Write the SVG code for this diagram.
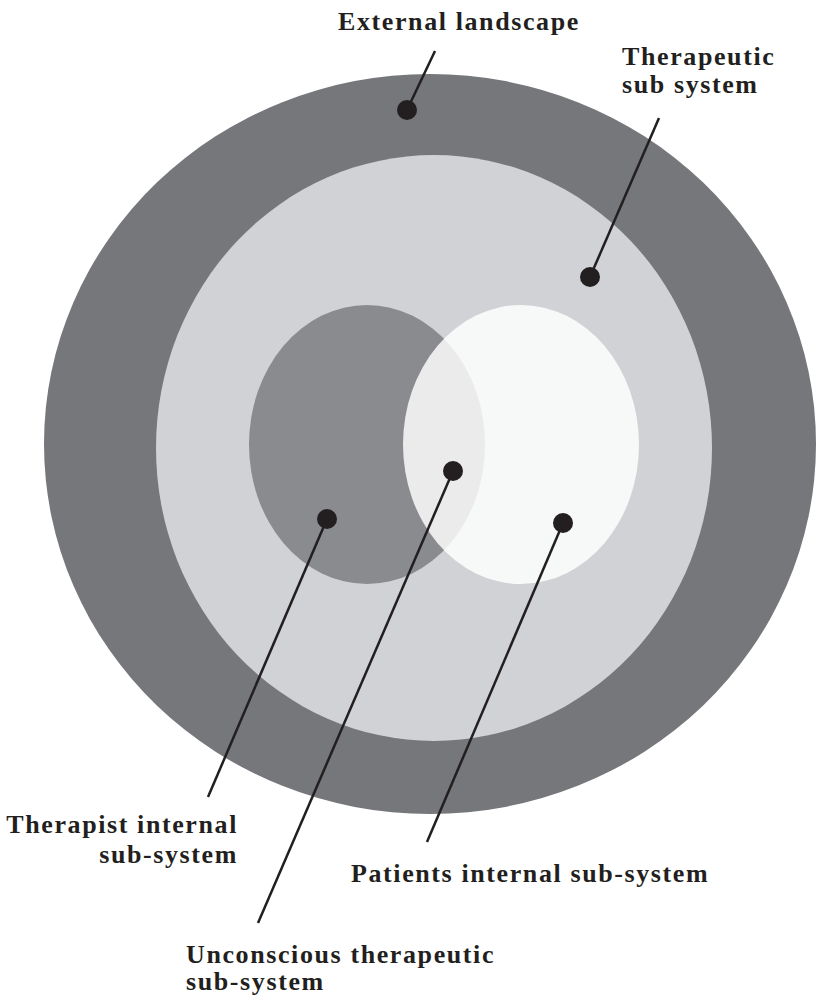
<svg xmlns="http://www.w3.org/2000/svg" width="816" height="1002" viewBox="0 0 816 1002">
<style>
.lbl{font-family:"Liberation Serif","DejaVu Serif",serif;font-weight:bold;font-size:26px;letter-spacing:1.6px;fill:#231f20}
.ln{stroke:#231f20;stroke-width:2.5;fill:none}
.dot{fill:#231f20}
</style>
<rect width="816" height="1002" fill="#ffffff"/>
<g id="external-landscape">
<ellipse cx="430" cy="444" rx="386" ry="370" fill="#76777a"/>
</g>
<g id="therapeutic-sub-system">
<ellipse cx="434" cy="448" rx="278" ry="293" fill="#d1d2d5"/>
</g>
<g id="therapist-internal">
<ellipse cx="367" cy="444.5" rx="118" ry="139.5" fill="#8a8b8e"/>
</g>
<g id="patients-internal">
<ellipse cx="521" cy="444.5" rx="118" ry="139.5" fill="#ffffff" fill-opacity="0.83"/>
</g>
<g id="connectors">
<line class="ln" x1="407" y1="110" x2="435" y2="51"/>
<line class="ln" x1="590" y1="277" x2="659" y2="118"/>
<line class="ln" x1="453" y1="471" x2="258" y2="923"/>
<line class="ln" x1="327" y1="519" x2="208" y2="797"/>
<line class="ln" x1="563" y1="523" x2="427" y2="842"/>
<circle class="dot" cx="407" cy="110" r="10"/>
<circle class="dot" cx="590" cy="277" r="10"/>
<circle class="dot" cx="453" cy="471" r="10"/>
<circle class="dot" cx="327" cy="519" r="10"/>
<circle class="dot" cx="563" cy="523" r="10"/>
</g>
<g id="labels">
<text class="lbl" x="338" y="30">External landscape</text>
<text class="lbl" x="622" y="65">Therapeutic</text>
<text class="lbl" x="622" y="93">sub system</text>
<text class="lbl" x="238" y="833" text-anchor="end">Therapist internal</text>
<text class="lbl" x="238" y="863" text-anchor="end">sub-system</text>
<text class="lbl" x="351" y="882">Patients internal sub-system</text>
<text class="lbl" x="186" y="963">Unconscious therapeutic</text>
<text class="lbl" x="186" y="990">sub-system</text>
</g>
</svg>
